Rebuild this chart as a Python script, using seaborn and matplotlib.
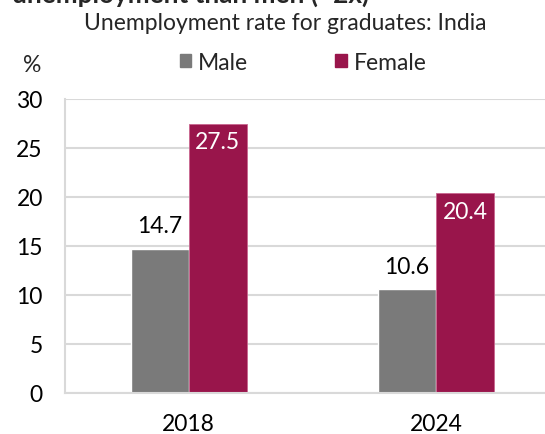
import pandas as pd
import matplotlib.pyplot as plt
import seaborn as sns

years = ["2018", "2024"]
male = [14.7, 10.6]
female = [27.5, 20.4]
series = ["Male", "Female"]
colors = {"Male": "#7a7a7a", "Female": "#99154b"}


def main():
    df = pd.DataFrame({
        "year": years * 2,
        "group": ["Male"] * len(years) + ["Female"] * len(years),
        "rate": male + female,
    })

    sns.set_style("white")
    plt.rcParams["font.family"] = ["Lato", "DejaVu Sans"]
    fs = 16.5

    fig = plt.figure(figsize=(5.45, 4.35), dpi=100)
    ax = fig.add_axes([65 / 545, 1 - 394 / 435, 480 / 545, 294 / 435])

    sns.barplot(data=df, x="year", y="rate", hue="group", hue_order=series,
                palette=colors, width=0.47, saturation=1, ax=ax, legend=False)

    for i, cont in enumerate(ax.containers):
        for bar, val in zip(cont, [male, female][i]):
            cx = bar.get_x() + bar.get_width() / 2
            if series[i] == "Male":
                ax.annotate(f"{val:.1f}", (cx, val), xytext=(0, 23), textcoords="offset pixels",
                            ha="center", va="center", fontsize=fs, color="black")
            else:
                ax.annotate(f"{val:.1f}", (cx, val), xytext=(0, -18), textcoords="offset pixels",
                            ha="center", va="center", fontsize=fs, color="white")
                bar.set_edgecolor("#c9668f")
                bar.set_linewidth(0.6)

    ax.set_ylim(0, 30)
    ax.set_yticks(range(0, 31, 5))
    ax.set_xlim(-0.5, 1.44)
    ax.yaxis.grid(True, color="#d9d9d9", linewidth=1.5)
    ax.set_axisbelow(True)
    for s in ["top", "right"]:
        ax.spines[s].set_visible(False)
    for s in ["left", "bottom"]:
        ax.spines[s].set_color("#d9d9d9")
        ax.spines[s].set_linewidth(1.5)
    ax.tick_params(axis="both", length=0, labelsize=fs, colors="black")
    ax.tick_params(axis="y", pad=16)
    ax.tick_params(axis="x", pad=14.5)
    ax.set_xlabel("")
    ax.set_ylabel("")

    # heading above the chart, cut off at the top edge
    fig.text(12 / 545, 1 - 3 / 435, "unemployment than men (~2x)", fontsize=18.8, fontweight="bold",
             ha="left", va="baseline")
    fig.text(285 / 545, 1 - 23 / 435, "Unemployment rate for graduates: India",
             fontsize=fs, ha="center", va="center")
    fig.text(32 / 545, 1 - 65 / 435, "%", fontsize=fs, ha="center", va="center")

    handles = [plt.Rectangle((0, 0), 1, 1, color=colors[s]) for s in series]
    fig.legend(handles, series, loc="center", bbox_to_anchor=(303 / 545, 1 - 63 / 435),
               ncol=2, frameon=False, fontsize=fs, handlelength=0.5, handleheight=0.5,
               handletextpad=0.3, columnspacing=3.8)

    fig.savefig("out.png", dpi=100)


if __name__ == "__main__":
    main()
